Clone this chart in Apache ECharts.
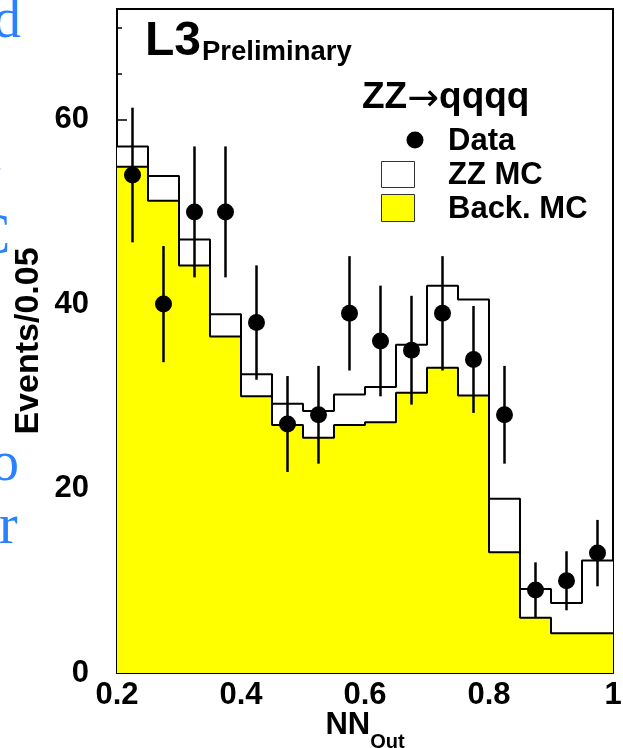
<!DOCTYPE html>
<html>
<head>
<meta charset="utf-8">
<title>ZZ → qqqq NN output</title>
<script src="https://cdn.jsdelivr.net/npm/echarts@6/dist/echarts.min.js"></script>
<style>
  html, body { margin: 0; padding: 0; background: #fff; }
  #chart { width: 623px; height: 748px; }
</style>
</head>
<body>
<div id="chart"></div>
<script>
// Lower edges of the NN output bins (bin width 0.05)
const binStart = [0.20, 0.25, 0.30, 0.35, 0.40, 0.45, 0.50, 0.55,
                  0.60, 0.65, 0.70, 0.75, 0.80, 0.85, 0.90, 0.95];
const binWidth = 0.05;
const axisEnd = 1.0;

// Background Monte Carlo (events per bin)
const backMC = [54.9, 51.2, 44.2, 36.5, 30.0, 26.9, 25.5, 26.9,
                27.2, 30.4, 33.1, 30.1, 13.1, 6.0, 4.3, 4.3];
// ZZ signal Monte Carlo, drawn stacked on top of the background
const zzMC = [2.2, 2.7, 2.8, 2.4, 2.4, 2.3, 2.9, 3.3,
              3.8, 5.2, 8.9, 10.4, 5.8, 3.1, 3.3, 7.9];
// Selected data events and their statistical errors
const dataEvents = [54, 40, 50, 50, 38, 27, 28, 39, 36, 35, 39, 34, 28, 9, 10, 13];
const dataErrors = [7.3, 6.3, 7.1, 7.1, 6.2, 5.2, 5.3, 6.2, 6.0, 5.9, 6.2, 5.8, 5.3, 3.0, 3.2, 3.6];

const seriesNames = ['Data', 'ZZ MC', 'Back. MC'];
const yTickStep = 20;
const yMinorStep = 5;
const yMax = 72;
const xTickStep = 0.2;

const FONT = '"Liberation Sans", Arial, Helvetica, sans-serif';
const SERIF = '"Liberation Serif", "DejaVu Serif", serif';
const YELLOW = '#ffff00';
const SLIDE_BLUE = '#2a80ff';

// Step histogram points: one point per lower bin edge, closed at the axis end
function stepPoints(values) {
  const pts = binStart.map((x, i) => [x, values[i]]);
  pts.push([axisEnd, values[values.length - 1]]);
  return pts;
}

// signal + background, the outer (white) histogram
const stackedTotal = backMC.map((b, i) => +(b + zzMC[i]).toFixed(2));

const dataPoints = binStart.map((x, i) => [x + binWidth / 2, dataEvents[i], dataErrors[i]]);

const chart = echarts.init(document.getElementById('chart'), null, { renderer: 'canvas' });

const tickText = { fontFamily: FONT, fontWeight: 'bold', fontSize: 31, color: '#000' };

// a letter of the neighbouring slide text, partly outside the left edge
function slideLetter(ch, x, y) {
  return {
    type: 'text', x: x, y: y, z: 1,
    style: { text: ch, fontFamily: SERIF, fontSize: 56, fill: SLIDE_BLUE, align: 'left', verticalAlign: 'top' }
  };
}

const option = {
  animation: false,
  backgroundColor: '#ffffff',
  grid: {
    left: 117, right: 10, top: 9, bottom: 75,
    containLabel: false,
    outerBoundsMode: 'none',
    show: true, borderColor: '#000', borderWidth: 2, backgroundColor: 'transparent'
  },
  xAxis: {
    type: 'value',
    min: 0.2, max: axisEnd, interval: xTickStep,
    name: '{a|NN}{b|Out}',
    nameLocation: 'middle',
    nameGap: 37,
    nameMoveOverlap: false,
    nameTextStyle: {
      rich: {
        a: { fontFamily: FONT, fontWeight: 'bold', fontSize: 31, lineHeight: 36, verticalAlign: 'top', color: '#000' },
        b: { fontFamily: FONT, fontWeight: 'bold', fontSize: 20, lineHeight: 20, verticalAlign: 'top', padding: [22, 0, 0, 0], color: '#000' }
      }
    },
    axisLine: { show: true, lineStyle: { color: '#000', width: 2 } },
    axisTick: { show: true, inside: true, length: 10, lineStyle: { color: '#000', width: 1.5 } },
    minorTick: { show: true, splitNumber: 4, length: 5, lineStyle: { color: '#000', width: 1.5 } },
    splitLine: { show: false },
    axisLabel: Object.assign({ margin: 7, formatter: v => String(+v.toFixed(2)) }, tickText)
  },
  yAxis: [
    {
      type: 'value',
      min: 0, max: yMax, interval: yTickStep,
      name: 'Events/0.05',
      nameLocation: 'middle',
      nameRotate: 90,
      nameGap: 71,
      nameMoveOverlap: false,
      nameTextStyle: { fontFamily: FONT, fontWeight: 'bold', fontSize: 34, color: '#000' },
      axisLine: { show: true, lineStyle: { color: '#000', width: 2 } },
      axisTick: { show: true, inside: true, length: 10, lineStyle: { color: '#000', width: 1.5 } },
      splitLine: { show: false },
      axisLabel: Object.assign({ margin: 28, showMaxLabel: false }, tickText)
    },
    {
      // minor ticks every 5 events
      type: 'value',
      position: 'left',
      min: 0, max: yMax, interval: yMinorStep,
      axisLine: { show: false },
      axisTick: { show: true, inside: true, length: 5, lineStyle: { color: '#000', width: 1.5 } },
      axisLabel: { show: false },
      splitLine: { show: false }
    }
  ],
  series: [
    {
      name: seriesNames[1],
      type: 'line',
      step: 'end',
      symbol: 'none',
      z: 2,
      data: stepPoints(stackedTotal),
      lineStyle: { color: '#000', width: 2 },
      areaStyle: { color: '#ffffff', opacity: 1 }
    },
    {
      name: seriesNames[2],
      type: 'line',
      step: 'end',
      symbol: 'none',
      z: 3,
      data: stepPoints(backMC),
      lineStyle: { color: '#000', width: 2 },
      areaStyle: { color: YELLOW, opacity: 1 }
    },
    {
      name: seriesNames[0] + ' errors',
      type: 'custom',
      z: 4,
      data: dataPoints,
      renderItem: (params, api) => {
        const x = api.value(0), y = api.value(1), e = api.value(2);
        const lo = api.coord([x, y - e]);
        const hi = api.coord([x, y + e]);
        return {
          type: 'line',
          shape: { x1: lo[0], y1: lo[1], x2: hi[0], y2: hi[1] },
          style: { stroke: '#000', lineWidth: 2.5 }
        };
      }
    },
    {
      name: seriesNames[0],
      type: 'scatter',
      z: 5,
      symbol: 'circle',
      symbolSize: 17,
      itemStyle: { color: '#000', opacity: 1 },
      data: dataPoints.map(p => [p[0], p[1]])
    }
  ],
  graphic: {
    elements: [
      // experiment tag
      { type: 'text', x: 145, y: 42, z: 10,
        style: { text: 'L3', fontFamily: FONT, fontWeight: 'bold', fontSize: 48, fill: '#000', align: 'left', verticalAlign: 'middle' } },
      { type: 'text', x: 202, y: 52, z: 10,
        style: { text: 'Preliminary', fontFamily: FONT, fontWeight: 'bold', fontSize: 27.5, fill: '#000', align: 'left', verticalAlign: 'middle' } },
      // channel title
      { type: 'text', x: 362, y: 98, z: 10,
        style: {
          text: '{b|ZZ}{a|→}{b|qqqq}',
          align: 'left', verticalAlign: 'middle',
          rich: {
            b: { fontFamily: FONT, fontWeight: 'bold', fontSize: 37, fill: '#000', color: '#000', verticalAlign: 'middle' },
            a: { fontFamily: '"DejaVu Sans", sans-serif', fontSize: 38, fill: '#000', color: '#000', verticalAlign: 'middle', padding: [4, 0, 0, 0] }
          }
        } },
      // legend
      { type: 'circle', z: 10, shape: { cx: 415, cy: 140, r: 8.5 }, style: { fill: '#000' } },
      { type: 'rect', z: 10, shape: { x: 381.5, y: 161.5, width: 33, height: 26 }, style: { fill: '#fff', stroke: '#333', lineWidth: 1 } },
      { type: 'rect', z: 10, shape: { x: 381.5, y: 194.5, width: 33, height: 27 }, style: { fill: YELLOW, stroke: '#333', lineWidth: 1 } },
      { type: 'text', x: 448, y: 141, z: 10,
        style: { text: seriesNames[0], fontFamily: FONT, fontWeight: 'bold', fontSize: 31, fill: '#000', align: 'left', verticalAlign: 'middle' } },
      { type: 'text', x: 448, y: 175, z: 10,
        style: { text: seriesNames[1], fontFamily: FONT, fontWeight: 'bold', fontSize: 31, fill: '#000', align: 'left', verticalAlign: 'middle' } },
      { type: 'text', x: 448, y: 209, z: 10,
        style: { text: seriesNames[2], fontFamily: FONT, fontWeight: 'bold', fontSize: 31, fill: '#000', align: 'left', verticalAlign: 'middle' } },
      // neighbouring slide text
      slideLetter('d', -7, -6),
      slideLetter('.', -10, 129),
      slideLetter('C', -27, 210),
      slideLetter('o', -9, 437),
      slideLetter('r', -1, 500)
    ]
  }
};

chart.setOption(option);
</script>
</body>
</html>
